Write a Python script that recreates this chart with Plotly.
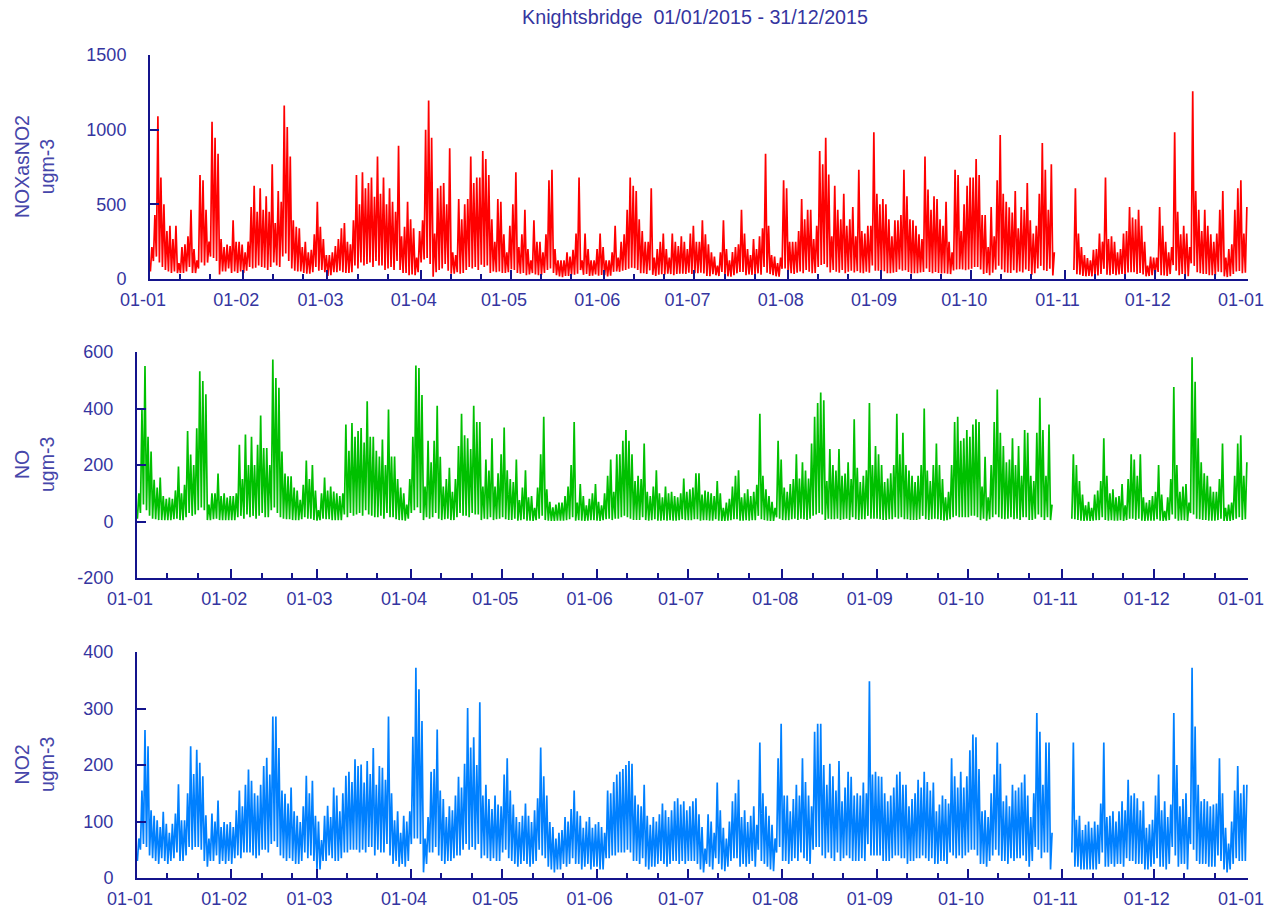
import pandas as pd
import plotly.graph_objects as go

# ---------------- data (daily peak / daily low, ugm-3), 2015 ----------------
N = None
no_peak = [
    100, 396, 550, 300, 248, 148, 120, 156, 90, 80, 85, 80, 110, 195, 100, 130, 320, 237, 200, 330, 532, 497, 450, 60, 100, 100, 170, 90, 100, 85, 90,
    90, 100, 272, 150, 308, 200, 300, 200, 272, 375, 260, 260, 200, 573, 508, 473, 248, 170, 160, 160, 120, 110, 77, 130, 216, 150, 200, 110,
    40, 100, 156, 110, 124, 106, 100, 90, 100, 343, 250, 349, 300, 320, 331, 280, 426, 300, 300, 250, 230, 290, 200, 396, 230, 230, 150, 120, 100, 60, 150,
    300, 552, 543, 448, 124, 286, 210, 286, 410, 229, 124, 150, 190, 105, 150, 267, 381, 305, 295, 257, 410, 352, 352, 124, 219, 180, 295, 124, 171, 238,
    333, 181, 150, 140, 219, 76, 120, 181, 86, 90, 48, 120, 238, 371, 114, 70, 50, 60, 67, 67, 90, 124, 200, 352, 67, 133, 90, 57, 80, 100, 133,
    70, 57, 100, 162, 219, 105, 238, 238, 286, 324, 286, 238, 143, 162, 150, 276, 105, 90, 124, 181, 100, 86, 124, 100, 105, 90, 86, 100, 152, 105,
    114, 120, 171, 171, 95, 110, 105, 100, 90, 143, 100, 48, 67, 80, 124, 162, 181, 86, 100, 114, 90, 105, 130, 381, 162, 114, 90, 70, 48, 286, 219,
    120, 105, 133, 150, 238, 152, 210, 180, 152, 276, 371, 419, 457, 429, 143, 257, 200, 180, 257, 162, 170, 210, 150, 362, 190, 140, 162, 181, 419, 200, 267,
    238, 200, 140, 152, 171, 200, 381, 238, 314, 200, 180, 162, 140, 162, 200, 400, 180, 143, 200, 276, 200, 150, 86, 105, 200, 352, 371, 286, 295, 324,
    300, 343, 362, 352, 124, 229, 86, 200, 352, 467, 314, 267, 210, 219, 295, 200, 267, 162, 324, 314, 162, 143, 314, 438, 324, 162, 343, 60, N, N, N,
    N, N, N, 238, 200, 143, 95, 57, 70, 48, 95, 110, 143, 295, 162, 100, 114, 86, 90, 133, 57, 150, 238, 219, 162, 238, 86, 67, 76, 90,
    105, 200, 95, 38, 86, 150, 476, 200, 105, 124, 133, 67, 581, 495, 295, 210, 171, 162, 124, 105, 105, 150, 276, 48, 60, 67, 162, 276, 305, 162, 210,
]
no_low = [
    10, 30, 60, 40, 20, 10, 8, 5, 5, 5, 5, 5, 8, 10, 5, 5, 15, 30, 20, 25, 40, 50, 40, 5, 5, 8, 10, 5, 5, 5, 5,
    5, 5, 15, 20, 10, 25, 15, 20, 10, 20, 30, 15, 15, 40, 50, 30, 15, 10, 8, 8, 5, 5, 5, 8, 15, 10, 10, 5,
    3, 5, 10, 8, 8, 5, 5, 5, 5, 25, 15, 30, 20, 25, 30, 20, 40, 25, 20, 15, 15, 20, 10, 30, 15, 15, 8, 5, 5, 3, 10,
    30, 40, 50, 30, 5, 15, 10, 15, 30, 10, 5, 8, 10, 5, 5, 15, 30, 20, 20, 15, 30, 25, 25, 5, 10, 8, 15, 5, 8, 10,
    15, 8, 5, 5, 10, 3, 5, 8, 3, 3, 2, 5, 10, 20, 5, 3, 2, 2, 3, 3, 3, 5, 8, 15, 3, 5, 3, 2, 3, 5, 5,
    3, 2, 5, 8, 10, 5, 10, 10, 15, 20, 15, 10, 5, 5, 5, 15, 5, 3, 5, 8, 3, 3, 5, 3, 5, 3, 3, 5, 8, 5,
    5, 5, 8, 8, 3, 5, 5, 3, 3, 8, 3, 2, 2, 3, 5, 8, 8, 3, 3, 5, 3, 5, 5, 20, 8, 5, 3, 2, 2, 15, 10,
    5, 5, 5, 8, 10, 5, 10, 8, 5, 10, 20, 25, 30, 25, 5, 10, 8, 8, 10, 5, 8, 10, 5, 15, 8, 5, 8, 8, 20, 10, 10,
    10, 8, 5, 5, 8, 8, 15, 10, 15, 8, 8, 5, 5, 5, 8, 20, 8, 5, 8, 10, 8, 5, 3, 5, 8, 15, 20, 15, 15, 15,
    15, 20, 20, 15, 5, 10, 3, 8, 15, 25, 15, 10, 8, 10, 15, 8, 10, 5, 15, 15, 5, 5, 10, 25, 15, 5, 15, 5, N, N, N,
    N, N, N, 10, 8, 5, 3, 2, 3, 2, 3, 5, 5, 15, 5, 3, 5, 3, 3, 5, 2, 5, 10, 10, 5, 10, 3, 2, 3, 3,
    3, 8, 3, 2, 3, 5, 25, 10, 3, 5, 5, 2, 30, 25, 10, 8, 5, 5, 3, 3, 3, 5, 10, 2, 2, 2, 5, 10, 15, 5, 8,
]
no2_peak = [
    70, 155, 262, 233, 120, 110, 102, 90, 117, 96, 80, 96, 114, 166, 102, 102, 150, 233, 184, 227, 204, 180, 111, 70, 114, 100, 137, 90, 99, 95, 99,
    90, 120, 155, 127, 165, 192, 172, 150, 146, 165, 198, 213, 183, 286, 286, 230, 155, 149, 132, 160, 118, 110, 99, 127, 181, 150, 172, 110,
    100, 67, 110, 128, 108, 160, 146, 118, 150, 181, 188, 170, 210, 198, 201, 169, 207, 184, 230, 165, 198, 195, 174, 286, 150, 102, 118, 80, 110, 100, 118,
    250, 372, 334, 278, 70, 108, 188, 193, 263, 155, 140, 108, 127, 120, 146, 179, 160, 202, 301, 231, 249, 200, 311, 146, 165, 140, 122, 146, 130, 127,
    183, 212, 155, 130, 108, 99, 110, 132, 110, 99, 120, 141, 231, 180, 146, 99, 90, 70, 80, 85, 108, 100, 122, 155, 118, 110, 89, 100, 108, 89, 95,
    99, 90, 80, 155, 150, 170, 183, 188, 193, 200, 207, 202, 146, 130, 127, 165, 110, 94, 108, 100, 113, 132, 120, 108, 120, 136, 141, 130, 136, 120,
    127, 136, 141, 113, 90, 52, 113, 100, 80, 169, 120, 89, 70, 100, 136, 150, 174, 108, 120, 99, 110, 127, 94, 240, 150, 127, 110, 94, 70, 212, 273,
    146, 146, 118, 140, 165, 146, 212, 170, 146, 127, 259, 273, 273, 200, 165, 202, 180, 155, 207, 136, 160, 188, 179, 146, 150, 146, 169, 150, 348, 183, 188,
    180, 179, 150, 136, 146, 160, 183, 188, 165, 165, 127, 140, 150, 174, 160, 188, 170, 155, 169, 118, 130, 146, 140, 132, 212, 180, 160, 188, 160, 180,
    226, 254, 249, 193, 118, 120, 108, 150, 183, 240, 202, 136, 146, 127, 165, 155, 160, 169, 183, 146, 108, 150, 292, 259, 165, 240, 240, 80, N, N, N,
    N, N, N, 240, 103, 110, 85, 94, 100, 89, 100, 94, 132, 240, 108, 110, 118, 100, 118, 136, 120, 174, 146, 150, 141, 120, 136, 89, 95, 103,
    146, 183, 120, 136, 108, 130, 292, 200, 127, 140, 150, 108, 372, 268, 165, 136, 140, 136, 127, 130, 132, 212, 150, 89, 61, 100, 155, 198, 150, 165, 165,
]
no2_low = [
    30, 50, 60, 55, 40, 35, 30, 25, 35, 30, 25, 30, 35, 45, 30, 30, 40, 55, 50, 55, 55, 50, 30, 20, 30, 30, 40, 25, 30, 25, 30,
    25, 35, 40, 35, 45, 45, 45, 40, 35, 40, 50, 50, 45, 60, 65, 55, 40, 35, 30, 35, 30, 25, 25, 30, 45, 35, 40, 30,
    15, 15, 30, 30, 40, 35, 30, 30, 35, 45, 45, 50, 50, 50, 45, 50, 45, 55, 55, 40, 50, 45, 45, 60, 40, 25, 30, 20, 25, 20, 30,
    60, 70, 70, 60, 10, 25, 45, 45, 55, 40, 30, 25, 30, 30, 35, 40, 40, 50, 60, 50, 55, 50, 60, 35, 40, 35, 30, 35, 30, 30,
    45, 50, 35, 30, 25, 20, 25, 30, 25, 20, 25, 30, 50, 40, 35, 20, 15, 10, 15, 15, 25, 20, 25, 35, 25, 25, 15, 20, 25, 15, 20,
    20, 15, 15, 35, 35, 40, 40, 45, 45, 45, 50, 45, 30, 30, 25, 35, 20, 15, 20, 20, 25, 30, 25, 20, 25, 30, 30, 25, 30, 25,
    30, 30, 30, 25, 15, 10, 25, 20, 15, 35, 25, 15, 12, 20, 30, 35, 35, 20, 25, 20, 25, 30, 20, 50, 30, 25, 20, 15, 12, 45, 55,
    30, 30, 25, 30, 35, 30, 45, 35, 30, 25, 50, 55, 55, 40, 35, 45, 35, 30, 45, 30, 35, 40, 35, 30, 30, 30, 35, 30, 60, 40, 40,
    40, 40, 30, 30, 30, 35, 40, 40, 35, 35, 25, 30, 30, 35, 35, 40, 35, 30, 35, 25, 25, 30, 30, 25, 45, 40, 35, 40, 35, 40,
    45, 50, 50, 40, 25, 25, 20, 30, 40, 50, 40, 30, 30, 25, 35, 30, 35, 35, 40, 30, 20, 30, 55, 50, 35, 45, 45, 15, N, N, N,
    N, N, N, 45, 20, 20, 15, 15, 15, 15, 15, 15, 25, 45, 20, 20, 25, 20, 25, 25, 20, 35, 30, 30, 25, 25, 25, 15, 15, 20,
    25, 35, 20, 20, 15, 25, 55, 40, 20, 25, 25, 15, 60, 50, 30, 25, 25, 25, 20, 20, 20, 40, 30, 15, 10, 15, 25, 35, 30, 30, 30,
]
nox_peak = [
    214, 428, 1089, 679, 500, 321, 357, 268, 357, 107, 214, 232, 286, 464, 200, 125, 696, 661, 464, 250, 1053, 946, 839, 268, 214, 230, 220, 393, 250, 250, 230,
    179, 250, 482, 625, 450, 607, 464, 554, 450, 768, 375, 589, 518, 1161, 1018, 821, 393, 350, 339, 214, 250, 179, 196, 300, 518, 350, 268, 161,
    161, 179, 220, 268, 339, 375, 250, 232, 393, 696, 500, 714, 607, 643, 679, 550, 821, 571, 679, 500, 607, 518, 450, 893, 286, 350, 518, 400, 339, 143, 321,
    393, 1000, 1196, 946, 304, 607, 625, 643, 500, 875, 179, 161, 536, 400, 500, 536, 821, 643, 679, 679, 857, 804, 696, 400, 250, 536, 518, 300, 179, 357,
    500, 714, 214, 300, 464, 200, 125, 393, 250, 250, 179, 300, 661, 732, 200, 125, 125, 125, 179, 150, 196, 304, 679, 125, 304, 200, 125, 125, 200, 304, 214,
    125, 125, 179, 357, 143, 250, 300, 464, 679, 625, 589, 400, 321, 250, 250, 607, 143, 200, 250, 304, 200, 143, 304, 250, 220, 286, 250, 200, 304, 357,
    250, 250, 393, 300, 232, 179, 150, 89, 179, 393, 200, 125, 180, 214, 232, 464, 304, 200, 161, 268, 200, 286, 339, 839, 357, 161, 150, 107, 143, 661, 607,
    250, 250, 250, 321, 536, 400, 464, 464, 268, 357, 857, 768, 946, 700, 286, 625, 464, 400, 571, 357, 400, 482, 286, 732, 321, 304, 357, 357, 982, 571, 500,
    536, 500, 400, 286, 393, 393, 428, 732, 554, 400, 393, 357, 300, 268, 821, 600, 464, 554, 536, 400, 357, 518, 250, 179, 732, 696, 321, 500, 625, 679,
    679, 804, 696, 428, 428, 214, 482, 286, 661, 964, 571, 518, 480, 446, 589, 339, 482, 464, 643, 393, 304, 357, 571, 911, 732, 464, 768, 179, N, N, N,
    N, N, N, 607, 304, 214, 161, 140, 125, 196, 200, 304, 250, 679, 268, 286, 250, 179, 200, 304, 321, 482, 411, 400, 464, 357, 250, 89, 150, 143,
    143, 482, 357, 250, 179, 214, 982, 450, 300, 357, 304, 214, 1257, 589, 464, 321, 464, 357, 300, 250, 304, 464, 589, 143, 200, 232, 464, 607, 661, 304, 482,
]
nox_low = [
    50, 120, 150, 110, 80, 60, 50, 40, 50, 40, 40, 40, 50, 80, 40, 40, 70, 110, 90, 110, 150, 140, 120, 30, 50, 50, 70, 40, 50, 40, 50,
    40, 55, 80, 70, 75, 90, 80, 75, 60, 80, 110, 90, 80, 150, 170, 120, 70, 55, 50, 50, 40, 35, 35, 45, 80, 55, 60, 45,
    20, 25, 45, 45, 55, 45, 40, 40, 45, 90, 70, 110, 90, 100, 110, 80, 120, 90, 90, 60, 70, 80, 60, 120, 60, 40, 40, 25, 30, 25, 45,
    110, 130, 140, 100, 15, 45, 60, 70, 100, 55, 35, 35, 45, 35, 40, 60, 80, 70, 80, 60, 95, 80, 90, 40, 50, 45, 50, 40, 40, 45,
    65, 60, 40, 35, 40, 25, 30, 40, 30, 25, 28, 40, 60, 70, 40, 25, 18, 13, 20, 20, 30, 28, 35, 60, 28, 33, 20, 23, 30, 22, 27,
    25, 18, 22, 48, 50, 48, 55, 60, 68, 75, 72, 60, 38, 38, 33, 58, 28, 20, 28, 32, 30, 35, 33, 25, 33, 35, 35, 33, 42, 33,
    38, 38, 42, 37, 20, 18, 33, 25, 20, 47, 30, 18, 15, 25, 38, 47, 47, 25, 30, 28, 30, 38, 28, 80, 42, 33, 25, 18, 15, 68, 70,
    38, 38, 33, 42, 50, 38, 60, 48, 38, 40, 80, 93, 100, 78, 43, 60, 48, 42, 60, 38, 48, 55, 43, 53, 42, 38, 48, 42, 90, 55, 55,
    55, 52, 38, 38, 42, 47, 63, 55, 58, 47, 37, 38, 38, 43, 47, 70, 47, 38, 47, 40, 37, 38, 35, 33, 57, 63, 65, 63, 58, 63,
    68, 80, 80, 63, 33, 40, 25, 42, 63, 88, 63, 45, 42, 40, 58, 42, 50, 43, 63, 53, 28, 38, 70, 88, 58, 53, 68, 23, N, N, N,
    N, N, N, 60, 32, 28, 20, 18, 20, 18, 20, 23, 33, 68, 28, 25, 33, 25, 30, 33, 23, 43, 45, 45, 33, 40, 30, 18, 20, 25,
    30, 47, 25, 23, 20, 33, 93, 55, 25, 33, 33, 18, 105, 88, 45, 38, 33, 33, 25, 25, 25, 48, 45, 18, 13, 18, 33, 50, 53, 38, 42,
]

month_ticks = ["01-01", "01-02", "01-03", "01-04", "01-05", "01-06", "01-07",
               "01-08", "01-09", "01-10", "01-11", "01-12", "01-01"]
panels = [
    # name, y-title, colour, low, peak, y tick values, y tick labels
    ("NOXasNO2", "NOXasNO2<br>ugm-3", "#ff0000", nox_low, nox_peak, [0, 500, 1000, 1500], ["0", "500", "1000", "1500"]),
    ("NO", "NO<br>ugm-3", "#00c000", no_low, no_peak, [-200, 0, 200, 400, 600], ["-200", "0", "200", "400", "600"]),
    ("NO2", "NO2<br>ugm-3", "#0080ff", no2_low, no2_peak, [0, 100, 200, 300, 400], ["0", "100", "200", "300", "400"]),
]
title_text = "Knightsbridge\u00a0 01/01/2015 - 31/12/2015"

for p in panels:
    assert len(p[3]) == 365 and len(p[4]) == 365, (p[0], len(p[3]), len(p[4]))

# ---------------- figure ----------------
W, H = 1281, 915
NAVY = "#14148c"
TXT = "#35359f"
FONT = "Liberation Sans, Arial, sans-serif"

days = pd.date_range("2015-01-01", periods=365, freq="D")
tick_dates = list(pd.date_range("2015-01-01", "2016-01-01", freq="MS"))
minor_dates = [d + pd.Timedelta(days=k) for d in tick_dates[:-1] for k in (10, 20)]

# pixel layout of the three plot areas: (left, right, top, bottom)
boxes = [(150, 1248, 55, 279), (137, 1248, 352, 578), (137, 1248, 652, 878)]

fig = go.Figure()
layout = dict(width=W, height=H, margin=dict(l=0, r=0, t=0, b=0, autoexpand=False),
              paper_bgcolor="white", plot_bgcolor="white", showlegend=False,
              font=dict(family=FONT, color=TXT),
              title=dict(text=title_text, x=695 / W, xref="container", xanchor="center",
                         y=1 - 17 / H, yref="container", yanchor="middle",
                         font=dict(family=FONT, size=19.7, color=TXT)))
annotations = []
for i, (name, ytitle, col, lows, peaks, yt, ytt) in enumerate(panels):
    xs, ys = [], []
    for d, lo, hi in zip(days, lows, peaks):
        xs += [d + pd.Timedelta(hours=3), d + pd.Timedelta(hours=15)]
        ys += [lo, hi]
    sfx = "" if i == 0 else str(i + 1)
    fig.add_trace(go.Scatter(x=xs, y=ys, mode="lines", name=name,
                             line=dict(color=col, width=1.7),
                             xaxis="x" + sfx, yaxis="y" + sfx, hoverinfo="skip"))
    l, r, t, b = boxes[i]
    layout["xaxis" + sfx] = dict(
        domain=[l / W, r / W], anchor="y" + sfx, type="date",
        range=["2015-01-01", "2016-01-01"],
        tickmode="array", tickvals=tick_dates, ticktext=month_ticks,
        ticks="inside", ticklen=9, tickwidth=1.5, tickcolor=NAVY,
        showline=True, linecolor=NAVY, linewidth=2, showgrid=False, zeroline=False,
        tickfont=dict(family=FONT, size=18, color=TXT),
        ticklabelshift=-7, ticklabelstandoff=3, automargin=False,
        minor=dict(tickmode="array", tickvals=minor_dates, ticks="inside",
                   ticklen=5, tickwidth=1.5, tickcolor=NAVY, showgrid=False),
    )
    layout["yaxis" + sfx] = dict(
        domain=[1 - b / H, 1 - t / H], anchor="x" + sfx, range=[yt[0], yt[-1]],
        tickmode="array", tickvals=yt, ticktext=ytt,
        ticks="inside", ticklen=9, tickwidth=1.5, tickcolor=NAVY,
        showline=True, linecolor=NAVY, linewidth=2, showgrid=False, zeroline=False,
        tickfont=dict(family=FONT, size=18, color=TXT), ticklabelstandoff=18,
        automargin=False,
    )
    annotations.append(dict(text=ytitle, textangle=-90, showarrow=False,
                            xref="paper", yref="paper", x=34 / W, y=1 - (t + b) / 2 / H,
                            xanchor="center", yanchor="middle",
                            font=dict(family=FONT, size=19.5, color="#4646aa")))
layout["annotations"] = annotations
fig.update_layout(**layout)

fig.write_html("out.html", config={"displayModeBar": False},
               post_script="document.body.style.margin='0';document.body.style.overflow='hidden';")
